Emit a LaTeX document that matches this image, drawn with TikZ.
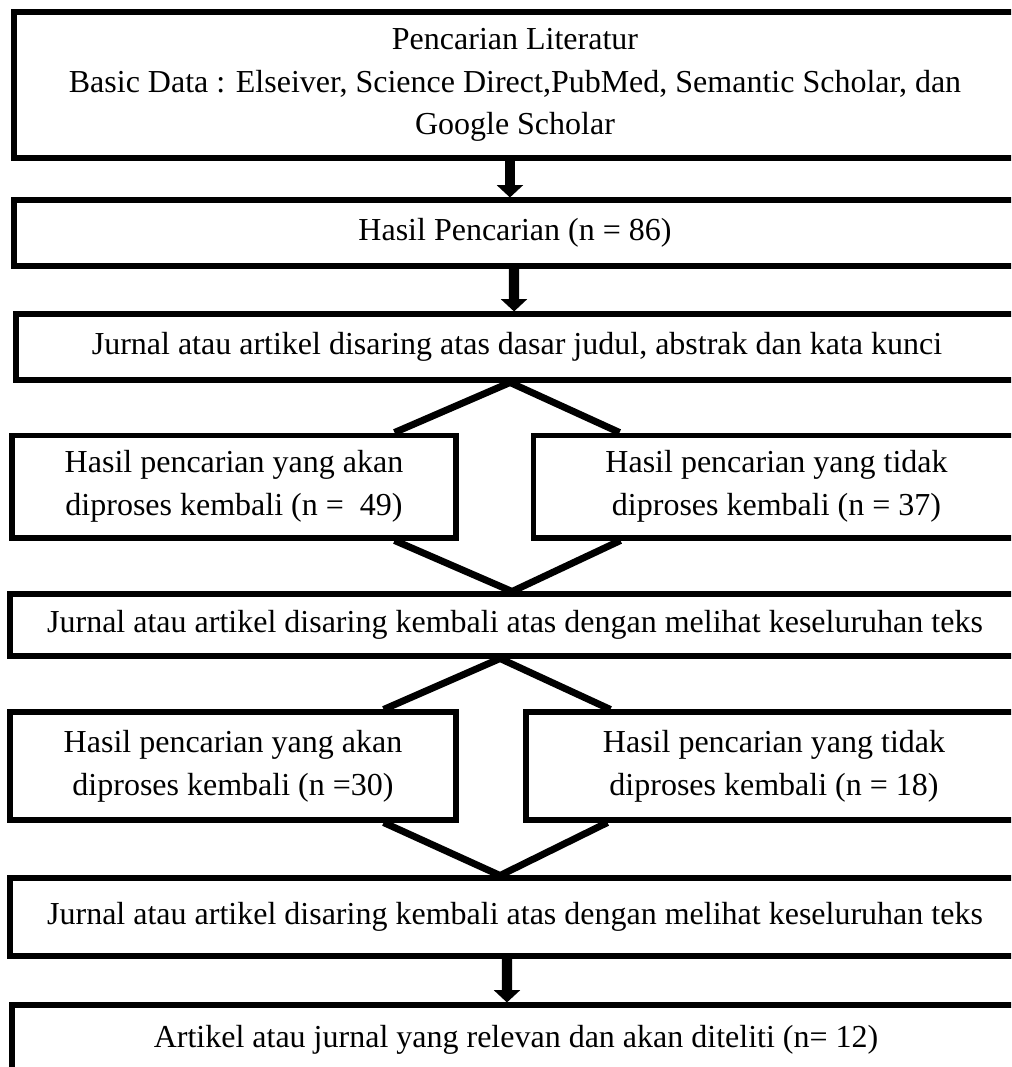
\documentclass[tikz,border=0pt]{standalone}
\usepackage{fontspec}
\setmainfont{Liberation Serif}
\usetikzlibrary{arrows.meta}
\tikzset{
  x=0.375pt, y=-0.375pt,
  box/.style={draw=black, line width=1.9pt, inner sep=0pt, align=center,
    font=\fontsize{12pt}{16pt}\selectfont},
  vline/.style={draw=black, line width=2.6pt, line join=miter},
  thickarrow/.style={draw=black, line width=3.8pt,
    -{Triangle[width=9.6pt,length=4.6pt]}}
}
\begin{document}
\begin{tikzpicture}
\useasboundingbox (0,0) rectangle (1011,1067);
\clip (0,0) rectangle (1011,1067);
\node[box, minimum width=375.75pt, minimum height=54.75pt] (b1) at (515,85)
  {Pencarian Literatur\\Basic Data : Elseiver, Science Direct,PubMed, Semantic Scholar, dan\\Google Scholar};
\node[box, minimum width=375.75pt, minimum height=24.75pt] (b2) at (515,233)
  {Hasil Pencarian (n = 86)};
\node[box, minimum width=375.75pt, minimum height=24.75pt] (b3) at (517,347)
  {Jurnal atau artikel disaring atas dasar judul, abstrak dan kata kunci};
\node[box, minimum width=166.5pt, minimum height=38.6pt] (l1) at (234,486.5)
  {Hasil pencarian yang akan\\diproses kembali (n =\ \ 49)};
\node[box, minimum width=182.6pt, minimum height=38.6pt] (r1) at (776.5,486.5)
  {Hasil pencarian yang tidak\\diproses kembali (n = 37)};
\node[box, minimum width=378.75pt, minimum height=23.25pt] (b4) at (515,625)
  {Jurnal atau artikel disaring kembali atas dengan melihat keseluruhan teks};
\node[box, minimum width=167.25pt, minimum height=40.5pt] (l2) at (233,766)
  {Hasil pencarian yang akan\\diproses kembali (n =30)};
\node[box, minimum width=186pt, minimum height=40.5pt] (r2) at (774,766)
  {Hasil pencarian yang tidak\\diproses kembali (n = 18)};
\node[box, minimum width=378.75pt, minimum height=29.25pt] (b5) at (515,917)
  {Jurnal atau artikel disaring kembali atas dengan melihat keseluruhan teks};
\node[box, minimum width=378pt, minimum height=26.25pt] (b6) at (516,1040)
  {Artikel atau jurnal yang relevan dan akan diteliti (n= 12)};
% arrows
\draw[thickarrow] ([xshift=-1.9pt]b1.south) -- ([xshift=-1.9pt]b2.north);
\draw[thickarrow] ([xshift=-0.4pt]b2.south) -- ([xshift=-1.1pt]b3.north);
\draw[thickarrow] ([xshift=-3pt]b5.south) -- ([xshift=-3.4pt]b6.north);
% splits and merges
\draw[vline] ([xshift=-24pt]l1.north east) -- ([xshift=-2.6pt]b3.south) -- ([xshift=33.4pt]r1.north west);
\draw[vline] ([xshift=-24pt]l1.south east) -- ([xshift=-1.1pt]b4.north) -- ([xshift=33.75pt]r1.south west);
\draw[vline] ([xshift=-28.1pt]l2.north east) -- ([xshift=-5.6pt]b4.south) -- ([xshift=32.6pt]r2.north west);
\draw[vline] ([xshift=-28.1pt]l2.south east) -- ([xshift=-5.6pt]b5.north) -- ([xshift=31.5pt]r2.south west);
\end{tikzpicture}
\end{document}
